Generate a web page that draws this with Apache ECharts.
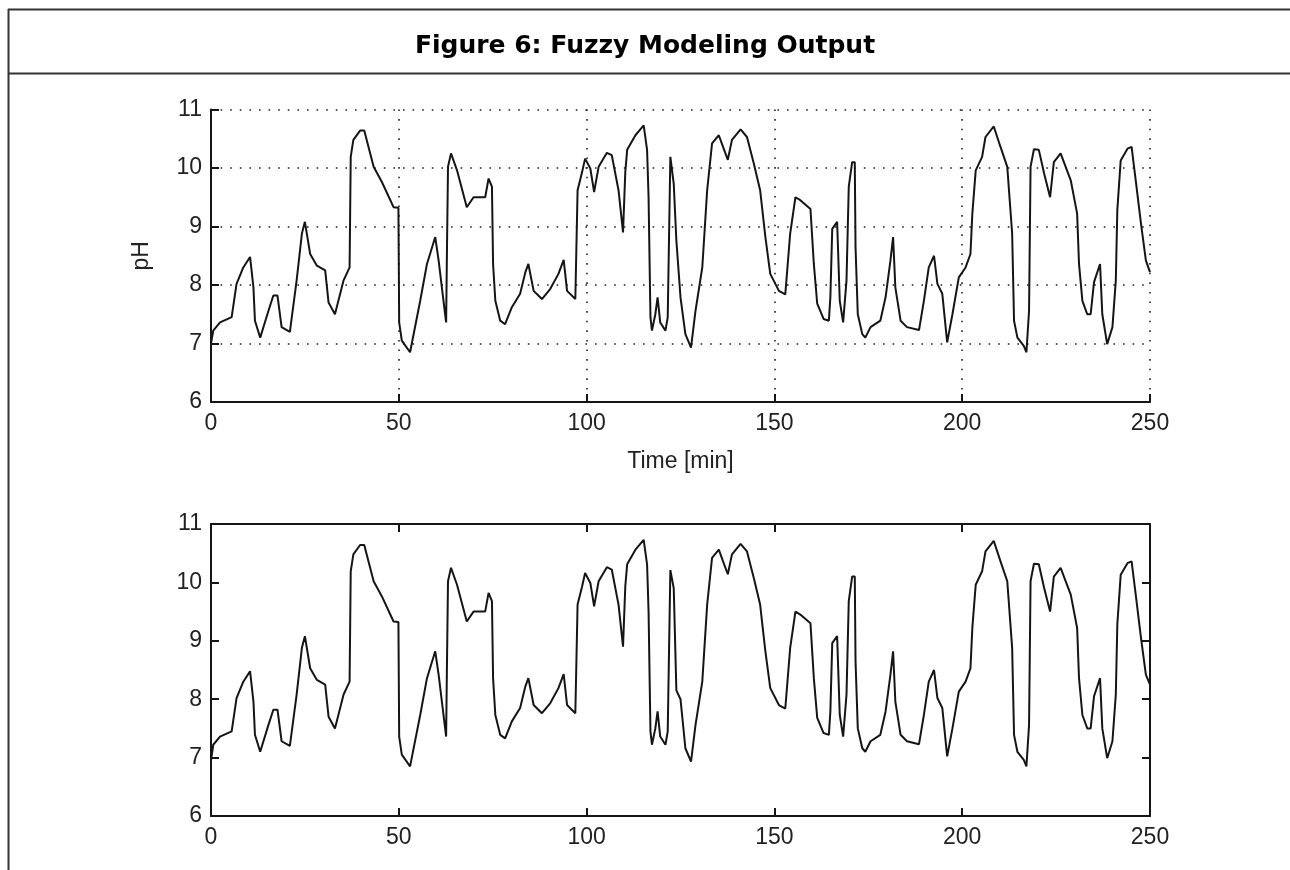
<!DOCTYPE html>
<html>
<head>
<meta charset="utf-8">
<script src="https://cdn.jsdelivr.net/npm/echarts@6/dist/echarts.min.js"></script>
<style>
  html, body { margin: 0; padding: 0; background: #fff; }
  #main { width: 1290px; height: 870px; }
</style>
</head>
<body>
<div id="main"></div>
<script>
// time axis in minutes, shared by both panels
var timeMin = [
  0, 0.6, 2.4, 5.5, 6.8, 8.6, 10.4, 11.3, 11.7, 13.1,
  15.3, 16.6, 17.7, 18.8, 21, 22.8, 24.2, 25, 26.4, 28.2,
  30.4, 31.3, 33, 35.3, 36.9, 37.2, 37.9, 39.7, 40.8, 43.3,
  45.5, 48.6, 49.9, 50.1, 50.8, 53, 55.7, 57.5, 59.7, 60.6,
  61.9, 62.6, 62.8, 63.1, 63.9, 65.5, 68.1, 69.9, 73, 73.9,
  74.8, 75.1, 75.7, 77, 78.3, 80.1, 82.3, 83.7, 84.5, 85.9,
  88.1, 90.3, 92.5, 93.9, 94.8, 97, 97.6, 98.8, 99.6, 101,
  102, 103.2, 105.4, 106.7, 108.5, 109.7, 110.3, 110.8, 113, 115.2,
  116.1, 116.5, 117, 117.4, 118.3, 118.9, 119.6, 121, 121.6, 122.3,
  123.2, 123.9, 125, 126.3, 127.8, 129, 130.8, 132.1, 133.4, 135.2,
  136.5, 137.6, 138.7, 141, 142.7, 144.5, 146.2, 147.6, 148.9, 151.2,
  152.9, 154.2, 155.6, 156.9, 159.6, 160.5, 161.4, 163.1, 164.5, 164.9,
  165.4, 166.7, 167.4, 168.3, 169.2, 169.8, 170.7, 171.4, 171.6, 172.2,
  173.4, 174.2, 175.6, 178.2, 179.6, 180.9, 181.6, 182.2, 183.6, 185.3,
  188.5, 189.8, 191.1, 192.5, 193.4, 194.7, 196, 197.4, 199.1, 200.9,
  202.2, 202.7, 203.6, 205.3, 206.2, 208.4, 210.2, 212, 213.3, 213.8,
  214.7, 216.4, 217.1, 217.8, 218.2, 219.1, 220.4, 221.8, 223.4, 224.4,
  226.2, 228.9, 230.6, 231.1, 232, 233.3, 234.2, 235.1, 236.7, 237.3,
  238.6, 240, 240.9, 241.3, 242.2, 244, 245.1, 246.2, 247.6, 248.9,
  250
];

// upper panel (measured pH)
var phMeasured = [
  7.0, 7.22, 7.36, 7.45, 8.02, 8.3, 8.48, 7.96, 7.39, 7.1,
  7.56, 7.82, 7.82, 7.28, 7.2, 8.08, 8.88, 9.08, 8.53, 8.33,
  8.25, 7.7, 7.5, 8.08, 8.3, 10.19, 10.48, 10.64, 10.64, 10.02,
  9.76, 9.33, 9.32, 7.36, 7.05, 6.85, 7.73, 8.36, 8.82, 8.42,
  7.73, 7.36, 8.48, 10.02, 10.25, 9.96, 9.33, 9.5, 9.5, 9.82,
  9.68, 8.36, 7.73, 7.39, 7.33, 7.62, 7.85, 8.22, 8.36, 7.9,
  7.76, 7.93, 8.19, 8.43, 7.9, 7.76, 9.62, 9.93, 10.16, 9.99,
  9.59, 10.02, 10.26, 10.22, 9.62, 8.9, 9.93, 10.31, 10.56, 10.73,
  10.31, 9.5, 7.45, 7.22, 7.5, 7.79, 7.36, 7.22, 7.45, 10.19,
  9.73, 8.76, 7.79, 7.16, 6.93, 7.56, 8.3, 9.62, 10.42, 10.56,
  10.33, 10.14, 10.48, 10.66, 10.53, 10.08, 9.62, 8.82, 8.19, 7.9,
  7.84, 8.88, 9.5, 9.45, 9.3, 8.36, 7.68, 7.42, 7.39, 7.79,
  8.96, 9.08, 7.73, 7.36, 8.08, 9.68, 10.1, 10.1, 8.65, 7.5,
  7.16, 7.1, 7.28, 7.39, 7.79, 8.42, 8.82, 7.96, 7.39, 7.28,
  7.23, 7.73, 8.3, 8.5, 8.02, 7.85, 7.02, 7.5, 8.13, 8.3,
  8.53, 9.22, 9.96, 10.19, 10.53, 10.71, 10.36, 10.02, 8.88, 7.39,
  7.1, 6.96, 6.85, 7.56, 10.02, 10.32, 10.31, 9.91, 9.5, 10.1,
  10.25, 9.79, 9.22, 8.36, 7.73, 7.5, 7.5, 8.05, 8.36, 7.5,
  6.99, 7.28, 8.08, 9.28, 10.13, 10.33, 10.36, 9.79, 9.05, 8.42,
  8.22
];

// lower panel (fuzzy model output)
var phModel = [
  6.95, 7.22, 7.36, 7.45, 8.02, 8.3, 8.48, 7.96, 7.39, 7.1,
  7.56, 7.82, 7.82, 7.28, 7.2, 8.08, 8.88, 9.08, 8.53, 8.33,
  8.25, 7.7, 7.5, 8.08, 8.3, 10.19, 10.48, 10.64, 10.64, 10.02,
  9.76, 9.33, 9.32, 7.36, 7.05, 6.85, 7.73, 8.36, 8.82, 8.42,
  7.73, 7.36, 8.48, 10.02, 10.25, 9.96, 9.33, 9.5, 9.5, 9.82,
  9.68, 8.36, 7.73, 7.39, 7.33, 7.62, 7.85, 8.22, 8.36, 7.9,
  7.76, 7.93, 8.19, 8.43, 7.9, 7.76, 9.62, 9.93, 10.16, 9.99,
  9.59, 10.02, 10.26, 10.22, 9.62, 8.9, 9.93, 10.31, 10.56, 10.73,
  10.31, 9.5, 7.45, 7.22, 7.5, 7.79, 7.36, 7.22, 7.45, 10.21,
  9.9, 8.15, 8.0, 7.16, 6.93, 7.56, 8.3, 9.62, 10.42, 10.56,
  10.33, 10.14, 10.48, 10.66, 10.53, 10.08, 9.62, 8.82, 8.19, 7.9,
  7.84, 8.88, 9.5, 9.45, 9.3, 8.36, 7.68, 7.42, 7.39, 7.79,
  8.96, 9.08, 7.73, 7.36, 8.08, 9.68, 10.1, 10.1, 8.65, 7.5,
  7.16, 7.1, 7.28, 7.39, 7.79, 8.42, 8.82, 7.96, 7.39, 7.28,
  7.23, 7.73, 8.3, 8.5, 8.02, 7.85, 7.02, 7.5, 8.13, 8.3,
  8.53, 9.22, 9.96, 10.19, 10.53, 10.71, 10.36, 10.02, 8.88, 7.39,
  7.1, 6.96, 6.85, 7.56, 10.02, 10.32, 10.31, 9.91, 9.5, 10.1,
  10.25, 9.79, 9.22, 8.36, 7.73, 7.5, 7.5, 8.05, 8.36, 7.5,
  6.99, 7.28, 8.08, 9.28, 10.13, 10.33, 10.36, 9.79, 9.05, 8.42,
  8.25
];

var xMin = 0, xMax = 250, xStep = 50;
var yMin = 6, yMax = 11, yStep = 1;

var ink = '#151515';
var labelFont = { fontFamily: 'Liberation Sans', fontSize: 23, color: '#222' };
var dotted = { color: '#222', width: 1.6, type: [1.6, 8] };

function pairs(values) {
  return timeMin.map(function (t, i) { return [t, values[i]]; });
}

function xAx(grid, opts) {
  return Object.assign({
    gridIndex: grid, type: 'value', min: xMin, max: xMax, interval: xStep,
    axisLine: { show: true, onZero: false, lineStyle: { color: ink, width: 2 } },
    axisTick: { show: true, inside: true, length: 8, lineStyle: { color: ink, width: 2 } },
    axisLabel: Object.assign({ margin: 10 }, labelFont),
    splitLine: { show: false }
  }, opts);
}

function yAx(grid, opts) {
  return Object.assign({
    gridIndex: grid, type: 'value', min: yMin, max: yMax, interval: yStep,
    axisLine: { show: true, onZero: false, lineStyle: { color: ink, width: 2 } },
    axisTick: { show: true, inside: true, length: 8, lineStyle: { color: ink, width: 2 } },
    axisLabel: Object.assign({ margin: 9 }, labelFont),
    splitLine: { show: false }
  }, opts);
}

var chart = echarts.init(document.getElementById('main'));

chart.setOption({
  animation: false,
  backgroundColor: '#fff',
  title: {
    text: 'Figure 6: Fuzzy Modeling Output',
    left: 'center',
    top: 29,
    textStyle: { fontFamily: 'DejaVu Sans', fontWeight: 'bold', fontSize: 25, color: '#000' }
  },
  graphic: [
    { type: 'line', shape: { x1: 8.5, y1: 9, x2: 8.5, y2: 870 }, style: { stroke: '#333', lineWidth: 2 } },
    { type: 'line', shape: { x1: 8, y1: 9.5, x2: 1290, y2: 9.5 }, style: { stroke: '#333', lineWidth: 2 } },
    { type: 'line', shape: { x1: 8, y1: 73.5, x2: 1290, y2: 73.5 }, style: { stroke: '#333', lineWidth: 2 } }
  ],
  grid: [
    { left: 211, top: 109.5, width: 939, height: 292.5 },
    { left: 211, top: 524, width: 939, height: 292 }
  ],
  xAxis: [
    xAx(0, {
      splitLine: { show: true, lineStyle: dotted },
      name: 'Time [min]', nameLocation: 'middle', nameGap: 48,
      nameTextStyle: labelFont
    }),
    xAx(1, {}),
    xAx(1, { position: 'top', axisLabel: { show: false } })
  ],
  yAxis: [
    yAx(0, {
      splitLine: { show: true, lineStyle: dotted },
      name: 'pH', nameLocation: 'middle', nameGap: 58, nameRotate: 90,
      nameTextStyle: labelFont
    }),
    yAx(1, {}),
    yAx(1, { position: 'right', axisLabel: { show: false } })
  ],
  series: [
    {
      type: 'line', xAxisIndex: 0, yAxisIndex: 0, data: pairs(phMeasured),
      showSymbol: false, lineStyle: { color: ink, width: 2 }, z: 5
    },
    {
      type: 'line', xAxisIndex: 1, yAxisIndex: 1, data: pairs(phModel),
      showSymbol: false, lineStyle: { color: ink, width: 2 }, z: 5
    }
  ]
});
</script>
</body>
</html>
